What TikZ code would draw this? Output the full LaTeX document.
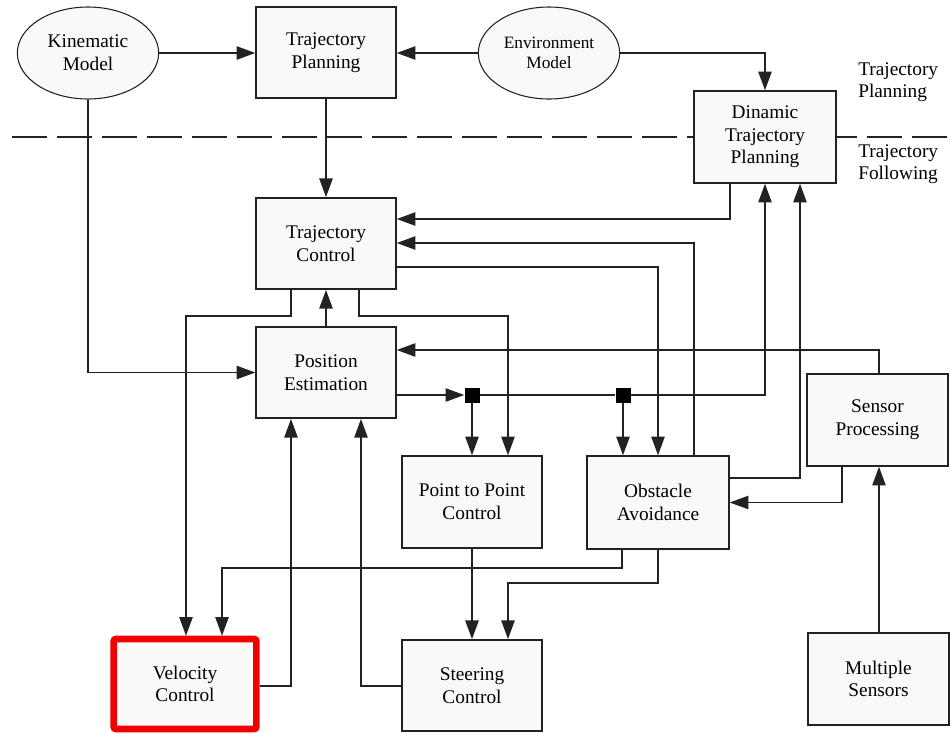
\documentclass[tikz,border=0pt]{standalone}
\usepackage{fontspec}
\setmainfont{Liberation Serif}
\usetikzlibrary{arrows.meta,shapes.geometric}
\definecolor{boxfill}{RGB}{249,249,247}
\definecolor{edge}{RGB}{34,34,34}
\definecolor{alert}{RGB}{240,0,0}
\begin{document}
\begin{tikzpicture}[x=0.75pt,y=-0.75pt,
  txt/.style={font=\fontsize{14.5}{17}\selectfont,align=center},
  blk/.style={txt,draw=edge,line width=1.1pt,fill=boxfill,minimum width=105pt,minimum height=68.5pt,inner sep=0pt},
  ell/.style={ellipse,draw=edge,line width=0.8pt,fill=boxfill,minimum width=106pt,minimum height=69pt,inner sep=0pt,align=center},
  arr/.style={draw=edge,line width=1.1pt,-{Triangle[length=14pt,width=10pt]}},
  wire/.style={draw=edge,line width=1.1pt},
  junc/.style={fill=black,minimum size=11.25pt,inner sep=0pt},
  side/.style={font=\fontsize{14.5}{16.5}\selectfont,align=left,anchor=west,inner sep=0pt}]
\useasboundingbox (0,0) rectangle (950,733);

% level separator between planning and following
\draw[edge,line width=1.1pt,dash pattern=on 26.25pt off 7.5pt] (12,137) -- (950,137);

% blocks
\node[ell,font=\fontsize{14.5}{17}\selectfont] (km) at (88,53) {Kinematic\\Model};
\node[blk] (tp) at (326,52.5) {Trajectory\\Planning};
\node[ell,font=\fontsize{13}{15}\selectfont] (em) at (549,53) {Environment\\Model};
\node[blk,minimum width=106.5pt,minimum height=69pt] (dtp) at (765,137) {Dinamic\\Trajectory\\Planning};
\node[blk] (tc) at (326,243.5) {Trajectory\\Control};
\node[blk] (pe) at (326,372.5) {Position\\Estimation};
\node[blk,minimum height=69pt] (ptp) at (472,502) {Point to Point\\Control};
\node[blk,minimum width=106.5pt,minimum height=69.75pt] (oa) at (658,502.5) {Obstacle\\Avoidance};
\node[blk,minimum width=105.75pt,minimum height=69pt] (sp) at (877.5,420) {Sensor\\Processing};
\node[blk,minimum width=105.75pt,minimum height=69pt] (ms) at (878.5,679) {Multiple\\Sensors};
\node[blk] (sc) at (472,685.5) {Steering\\Control};
\node[blk,draw=alert,line width=4.9pt,rounded corners=1.5pt,minimum width=106.9pt,minimum height=67.5pt] (vc) at (185,684) {Velocity\\Control};

% branch points
\node[junc] (j1) at (472,395) {};
\node[junc] (j2) at (623,395) {};

% level labels
\node[side] (lp) at (858,82) {Trajectory\\Planning};
\node[side] (lf) at (858,164) {Trajectory\\Following};

% connections
\draw[arr] (km.east) -- (km.east -| tp.west);
\draw[arr] (em.west) -- (em.west -| tp.east);
\draw[arr] (em.east) -| (dtp.north);
\draw[arr] (tp) -- (tc);
\draw[arr] (km.south) |- (pe.west);
\draw[arr] (dtp.south -| 730,0) |- (tc.east |- 0,219);
\draw[arr] (oa.north -| 694,0) |- (tc.east |- 0,243);
\draw[arr] (tc.east |- 0,267) -| (oa.north);
\draw[arr] (pe.east |- 0,395) -- (j1.west);
\draw[wire] (j1.east) -- (j2.west);
\draw[arr] (j2.east) -| (dtp.south);
\draw[arr] (j1.south) -- (j1.south |- ptp.north);
\draw[arr] (tc.south -| 359,0) |- (508,316) -- (508,0 |- ptp.north);
\draw[arr] (tc.south -| 291,0) |- (186,316) -- (186,0 |- vc.north);
\draw[arr] (pe) -- (tc);
\draw[arr] (sp.north -| 879,0) |- (pe.east |- 0,350);
\draw[arr] (j2.south) -- (j2.south |- oa.north);
\draw[arr] (oa.east |- 0,478) -| (dtp.south -| 800,0);
\draw[arr] (sp.south -| 842,0) |- (oa.east);
\draw[arr] (ms.north -| 879,0) -- (sp.south -| 879,0);
\draw[arr] (ptp) -- (sc);
\draw[arr] (oa.south) |- (508,583) -- (508,0 |- sc.north);
\draw[arr] (oa.south -| 622,0) |- (222,568) -- (222,0 |- vc.north);
\draw[arr] (vc.east |- 0,686) -| (pe.south -| 291,0);
\draw[arr] (sc.west |- 0,686) -| (pe.south -| 361,0);
\end{tikzpicture}
\end{document}
